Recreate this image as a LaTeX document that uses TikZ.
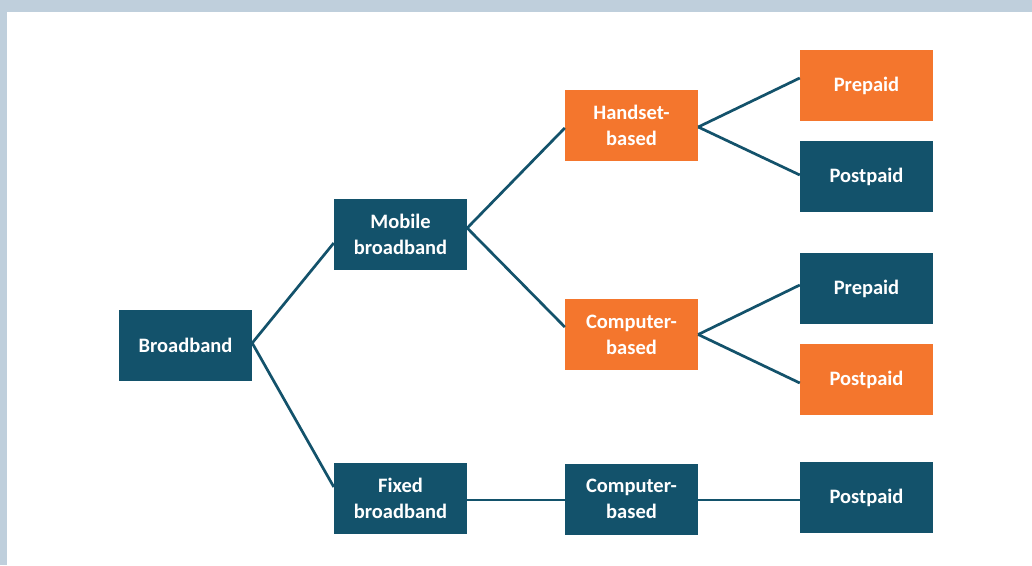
\documentclass[tikz,border=0pt]{standalone}
\usepackage{fontspec}
\setmainfont{Carlito}
\definecolor{navy}{HTML}{13526B}
\definecolor{orng}{HTML}{F4762D}
\definecolor{frame}{HTML}{BFCFDC}
\tikzset{
  box/.style={rectangle, minimum width=133pt, minimum height=71pt, inner sep=0pt,
    text=white, font=\fontsize{20.5}{26}\selectfont\bfseries, align=center},
  nbox/.style={box, fill=navy},
  obox/.style={box, fill=orng},
  link/.style={draw=navy, line width=2.7pt},
}
\begin{document}
\begin{tikzpicture}[x=1pt,y=-1pt]
\fill[frame] (0,0) rectangle (1032,565);
\fill[white] (7,12) rectangle (1032,565);
\useasboundingbox (0,0) rectangle (1032,565);

\node[nbox] (bb) at (185.5,345.5) {Broadband};
\node[nbox] (mb) at (400.5,234.5) {Mobile\\broadband};
\node[nbox] (fb) at (400.5,498.5) {Fixed\\broadband};
\node[obox] (hs) at (631.5,125.5) {Handset-\\based};
\node[obox] (cb) at (631.5,334.5) {Computer-\\based};
\node[nbox] (cf) at (631.5,499) {Computer-\\based};
\node[obox] (p1) at (866.5,85.5) {Prepaid};
\node[nbox] (q1) at (866.5,176.5) {Postpaid};
\node[nbox] (p2) at (866.5,288.5) {Prepaid};
\node[obox] (q2) at (866.5,379.5) {Postpaid};
\node[nbox] (q3) at (866.5,497.5) {Postpaid};

\draw[link] ([yshift=2.5pt]bb.east) -- ([yshift=-8.5pt]mb.west);
\draw[link] ([yshift=2.5pt]bb.east) -- ([yshift=11.5pt]fb.west);
\draw[link] ([yshift=6.5pt]mb.east) -- ([yshift=-2.5pt]hs.west);
\draw[link] ([yshift=6.5pt]mb.east) -- ([yshift=7.5pt]cb.west);
\draw[link] ([yshift=-1.5pt]hs.east) -- ([yshift=7.5pt]p1.west);
\draw[link] ([yshift=-1.5pt]hs.east) -- ([yshift=1.5pt]q1.west);
\draw[link] (cb.east) -- ([yshift=3.5pt]p2.west);
\draw[link] (cb.east) -- ([yshift=-3.5pt]q2.west);
\draw[link] ([yshift=-1.5pt]fb.east) -- ([yshift=-1pt]cf.west);
\draw[link] ([yshift=-1pt]cf.east) -- ([yshift=-2.5pt]q3.west);
\end{tikzpicture}
\end{document}
